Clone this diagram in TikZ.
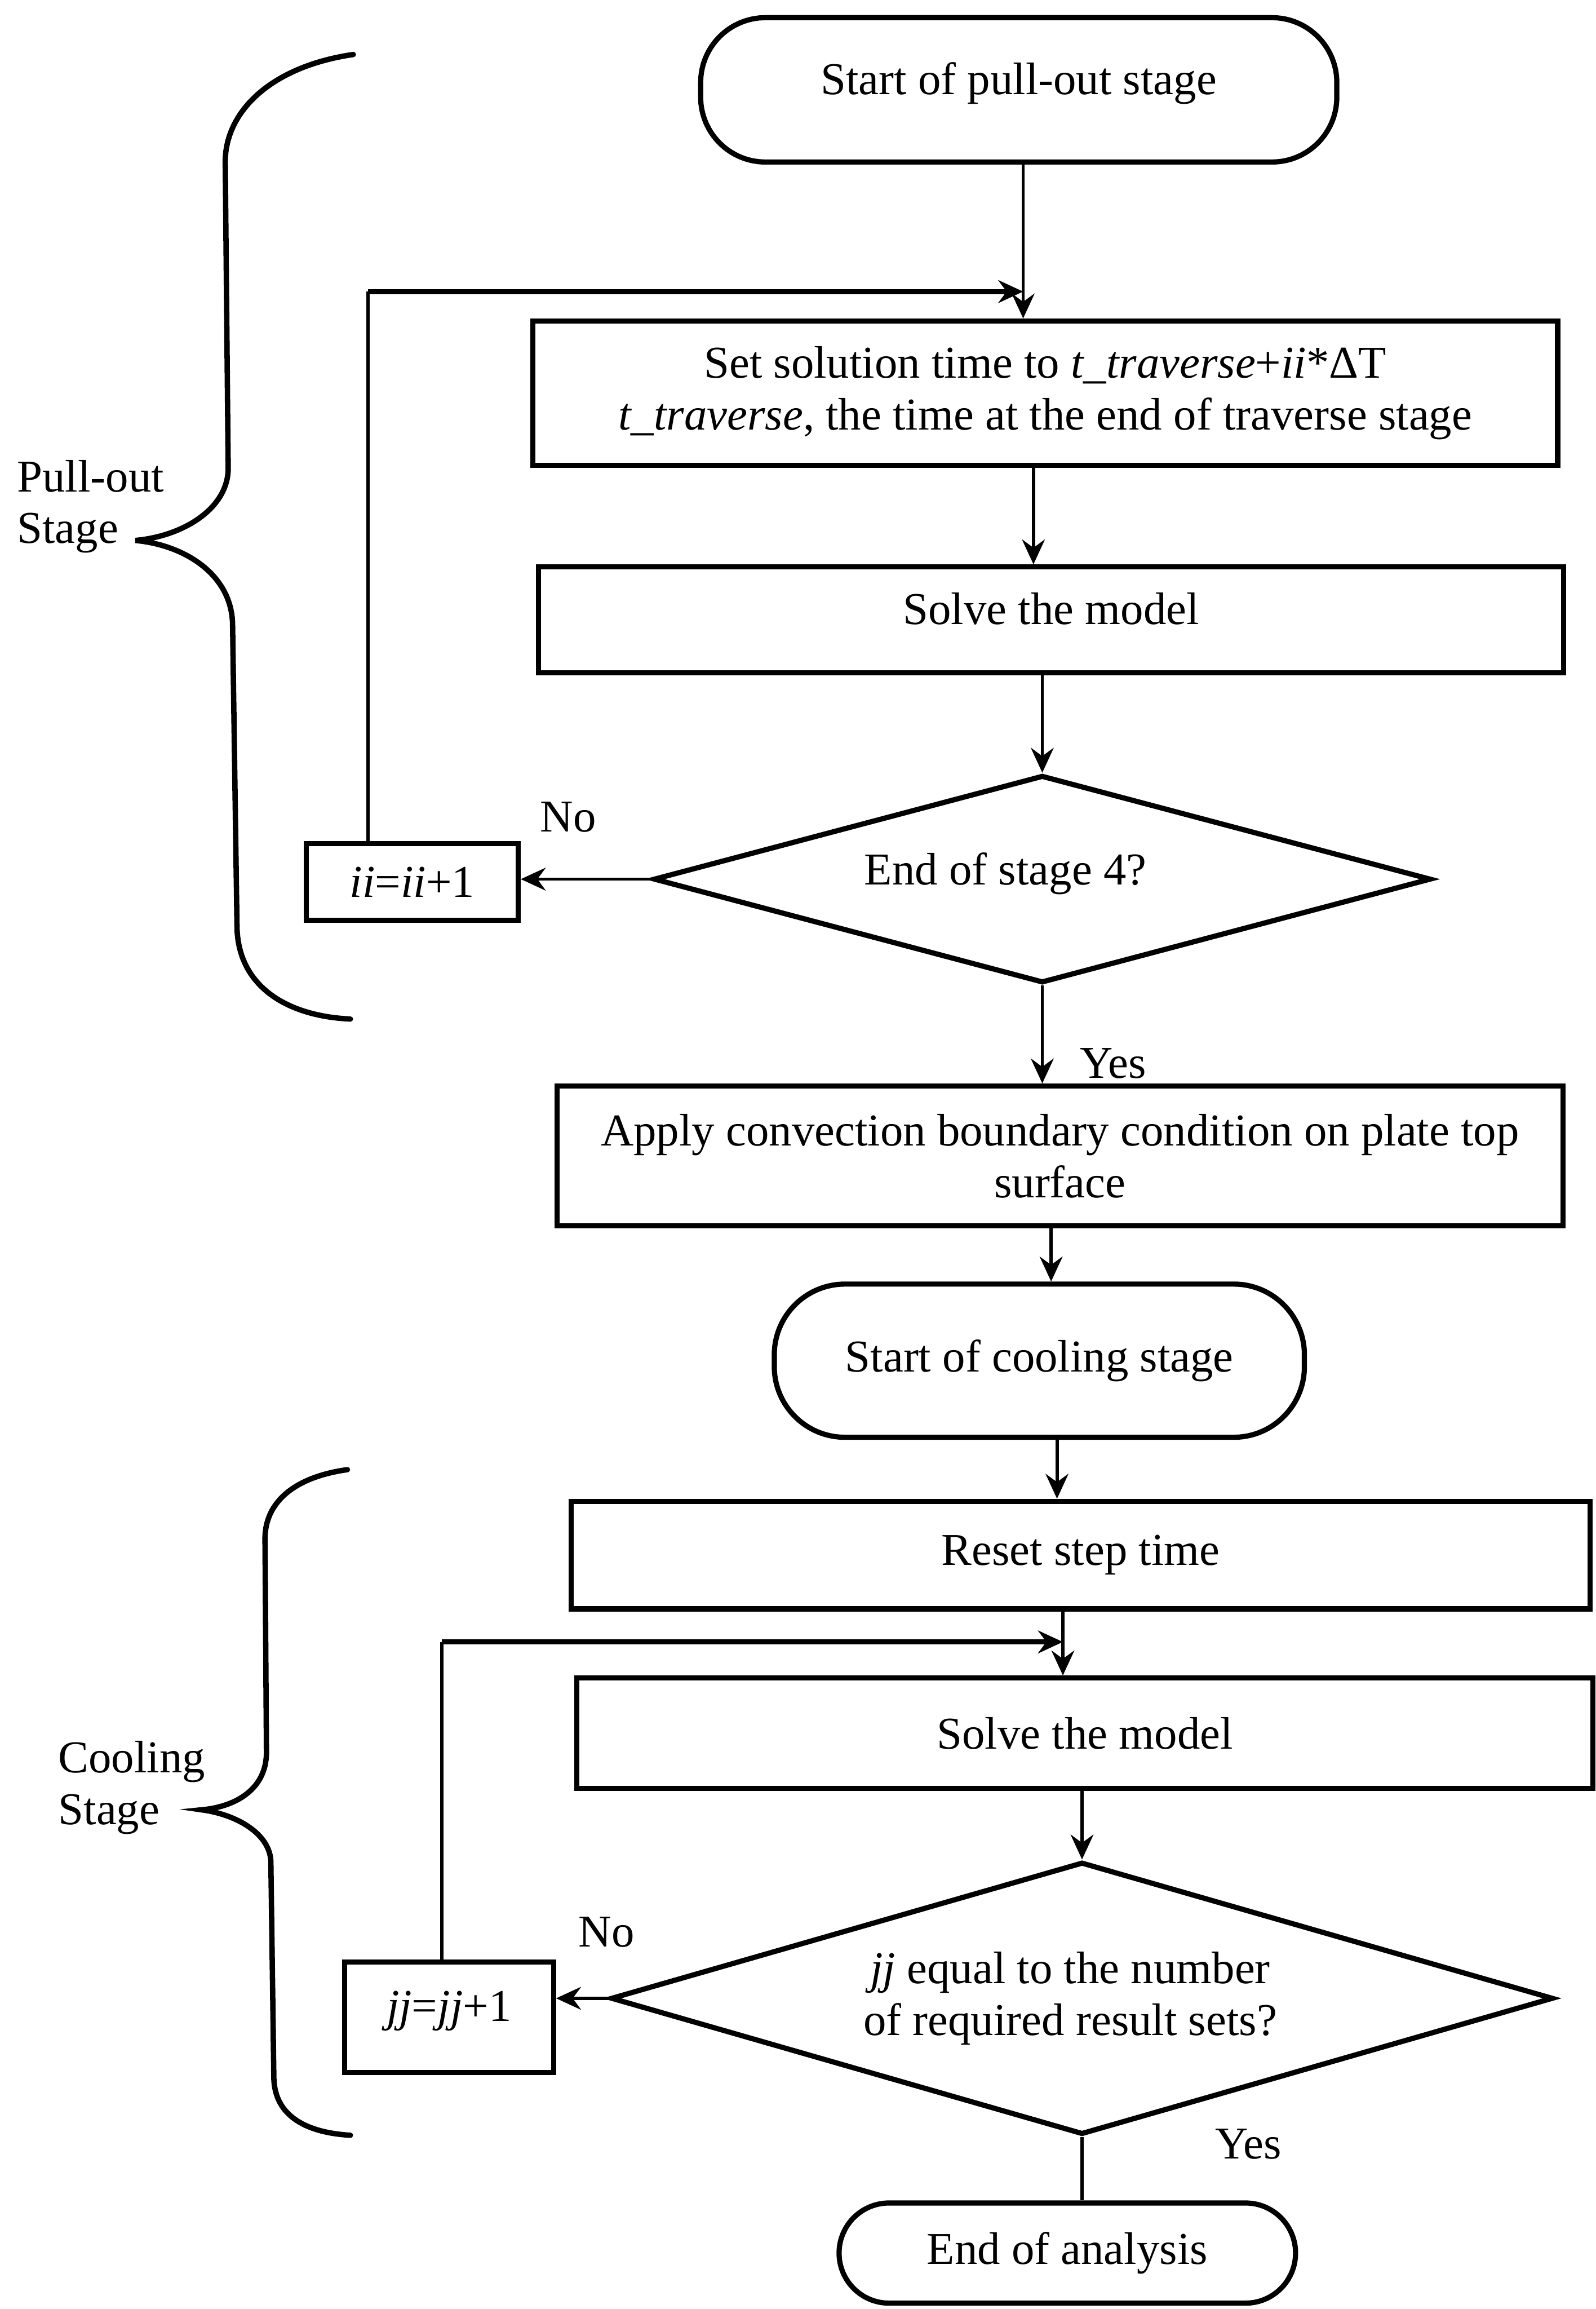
\documentclass[tikz,border=0pt]{standalone}
\usepackage{fontspec}
\setmainfont{Liberation Serif}
\usetikzlibrary{shapes.geometric,arrows.meta}
\begin{document}
\begin{tikzpicture}[x=0.025cm,y=-0.025cm,
  every node/.style={font=\fontsize{22}{25}\selectfont},
  proc/.style={draw, line width=2.5pt, rectangle, inner sep=0pt, align=center},
  term/.style={draw, line width=2.5pt, rectangle, rounded corners=1.1cm, inner sep=0pt, align=center},
  dec/.style={draw, line width=2.5pt, diamond, inner sep=0pt, align=center},
  conn/.style={line width=1.6pt},
  tip/.style={-{Stealth[length=12pt,width=11pt,inset=4pt]}},
  arr/.style={conn, tip},
  loopline/.style={line width=2.5pt, tip},
  brace/.style={line width=2.6pt, line cap=round},
  lbl/.style={inner sep=1pt}]
\useasboundingbox (0,0) rectangle (1084,1568);

% nodes
\node[term, minimum width=10.8cm, minimum height=2.45cm] (t1) at (692,61) {\raisebox{11pt}{Start of pull-out stage}};
\node[proc, minimum width=17.4cm, minimum height=2.45cm] (b1) at (710,267)
  {Set solution time to \textit{t\_traverse}+\textit{ii}*ΔT\\\textit{t\_traverse}, the time at the end of traverse stage};
\node[proc, minimum width=17.4cm, minimum height=1.8cm] (b2) at (714,421) {\raisebox{11pt}{Solve the model}};
\node[dec, aspect=3.745, minimum width=13.2cm, minimum height=3.525cm] (d1) at (708,597) {\raisebox{10pt}{End of stage 4?}\hspace*{1.25cm}};
\node[proc, minimum width=3.6cm, minimum height=1.3cm] (ii) at (280,599) {\textit{ii}=\textit{ii}+1};
\node[proc, minimum width=17.075cm, minimum height=2.375cm] (b3) at (720,785)
  {Apply convection boundary condition on plate top\\surface};
\node[term, minimum width=9cm, minimum height=2.6cm, rounded corners=1.2cm] (t2) at (706,924) {Start of cooling stage};
\node[proc, minimum width=17.3cm, minimum height=1.825cm] (b4) at (734,1056) {Reset step time};
\node[proc, minimum width=17.25cm, minimum height=1.875cm] (b5) at (737,1177) {Solve the model};
\node[dec, aspect=3.46, minimum width=16cm, minimum height=4.625cm] (d2) at (735,1357)
  {\textit{jj} equal to the number\hspace*{0.4cm}\\of required result sets?\hspace*{0.4cm}};
\node[proc, minimum width=3.55cm, minimum height=1.875cm] (jj) at (305,1370) {\raisebox{11pt}{\textit{jj}=\textit{jj}+1}};
\node[term, minimum width=7.75cm, minimum height=1.7cm, rounded corners=0.85cm] (t3) at (725,1530) {End of analysis};

% labels
\node[lbl] (no1) at (386,555) {No};
\node[lbl] (yes1) at (756,722) {Yes};
\node[lbl] (no2) at (412,1312) {No};
\node[lbl] (yes2) at (848,1456) {Yes};
\node[lbl, anchor=west, align=left] (pl) at (10,344) {Pull-out\\Stage};
\node[lbl, anchor=west, align=left] (cl) at (38,1214) {Cooling\\Stage};

% connectors
\coordinate (j1) at (695,198);
\coordinate (c1) at (250,198);
\coordinate (j2) at (722,1115);
\coordinate (c2) at (300,1115);

\draw[arr] (695,0 |- t1.south) -- (695,0 |- b1.north);
\draw[conn] (c1 |- ii.north) -- (c1);
\draw[loopline] (c1) -- (j1);
\draw[arr] (702,0 |- b1.south) -- (702,0 |- b2.north);
\draw[arr] (d1.north |- b2.south) -- (d1.north);
\draw[arr] (d1.west) -- (d1.west -| ii.east);
\draw[arr] (d1.south) -- (d1.south |- b3.north);
\draw[arr] (714,0 |- b3.south) -- (714,0 |- t2.north);
\draw[arr] (718,0 |- t2.south) -- (718,0 |- b4.north);
\draw[arr] (722,0 |- b4.south) -- (722,0 |- b5.north);
\draw[conn] (c2 |- jj.north) -- (c2);
\draw[loopline] (c2) -- (j2);
\draw[arr] (d2.north |- b5.south) -- (d2.north);
\draw[arr] (d2.west) -- (d2.west -| jj.east);
\draw[conn] (d2.south) -- (d2.south |- t3.north);

% braces
\draw[brace] (240,37) .. controls (185,45) and (153,75) .. (153,110) -- (155,318)
  .. controls (155,345) and (125,364) .. (92,367)
  .. controls (125,370) and (158,390) .. (158,425) -- (161,630)
  .. controls (162,670) and (195,690) .. (238,692);
\draw[brace] (236,998) .. controls (200,1003) and (180,1020) .. (180,1045) -- (181,1190)
  .. controls (181,1215) and (160,1227) .. (137,1229)
  .. controls (160,1232) and (184,1245) .. (184,1265) -- (186,1410)
  .. controls (186,1435) and (205,1448) .. (238,1450);
\end{tikzpicture}
\end{document}
